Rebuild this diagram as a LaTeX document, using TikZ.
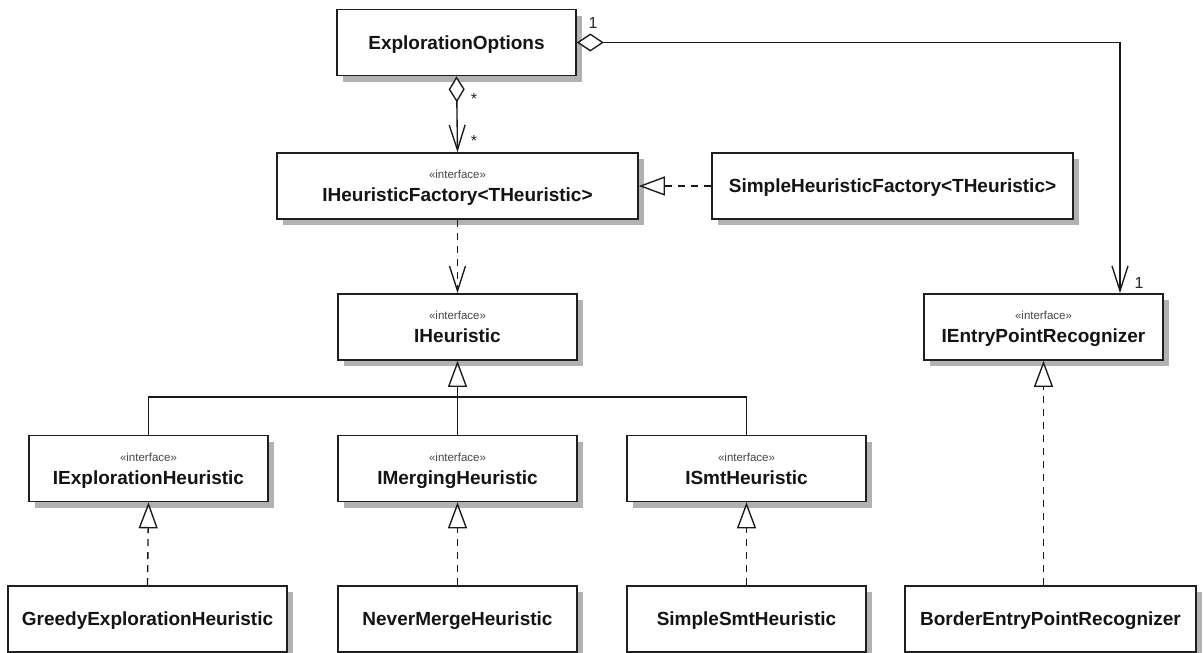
\documentclass[tikz,border=0pt]{standalone}
\usepackage{fontspec}
\setmainfont{Liberation Sans}
\usetikzlibrary{arrows.meta,shadows,calc}

\newcommand\umlname{\fontsize{19}{23}\selectfont\bfseries}
\newcommand\umlstereo[1]{{\fontsize{11.5}{23}\selectfont\mdseries\color{black!72}#1}}

\tikzset{
  umlbox/.style={draw=black!88, line width=1.7pt, fill=white,
    minimum height=66pt, inner sep=0pt, text depth=0pt, align=center,
    font=\umlname, text=black!92,
    drop shadow={shadow xshift=6pt, shadow yshift=-6pt, opacity=1, fill=black!30}},
  conn/.style={draw=black!90, line width=1.35pt},
  dep/.style={conn, dash pattern=on 7pt off 6pt},
  mult/.style={font=\fontsize{16}{18}\selectfont, text=black!85, inner sep=0pt, anchor=base},
  vee/.style={-{Straight Barb[length=25pt,width=16pt,line width=1.35pt]}},
  realize/.style={-{Triangle[fill=white,length=26pt,width=19pt,line width=1.35pt]}},
}

\begin{document}
\begin{tikzpicture}[x=1pt,y=-1pt]
\fill[white] (0,0) rectangle (1203,653);
\useasboundingbox (0,0) rectangle (1203,653);

% classes and interfaces
\node[umlbox, minimum width=239pt] (eo)   at (456.5,42.5) {ExplorationOptions};
\node[umlbox, minimum width=361pt] (ihf)  at (457.5,186) {\umlstereo{«interface»}\\IHeuristicFactory<THeuristic>};
\node[umlbox, minimum width=361pt] (shf)  at (892.5,186) {SimpleHeuristicFactory<THeuristic>};
\node[umlbox, minimum width=239pt] (ih)   at (457.5,327) {\umlstereo{«interface»}\\IHeuristic};
\node[umlbox, minimum width=239pt] (iep)  at (1043.5,327) {\umlstereo{«interface»}\\IEntryPointRecognizer};
\node[umlbox, minimum width=239pt] (iexp) at (148.5,468.5) {\umlstereo{«interface»}\\IExplorationHeuristic};
\node[umlbox, minimum width=239pt] (imer) at (457.5,468.5) {\umlstereo{«interface»}\\IMergingHeuristic};
\node[umlbox, minimum width=239pt] (ismt) at (746.5,468.5) {\umlstereo{«interface»}\\ISmtHeuristic};
\node[umlbox, minimum width=279pt] (greedy) at (147.5,619) {GreedyExplorationHeuristic};
\node[umlbox, minimum width=239pt] (never)  at (457.5,619) {NeverMergeHeuristic};
\node[umlbox, minimum width=239pt] (ssmt)   at (746.5,619) {SimpleSmtHeuristic};
\node[umlbox, minimum width=291pt] (border) at (1050.5,619) {BorderEntryPointRecognizer};

% aggregations
\draw[conn, {Diamond[fill=white,length=26pt,width=16pt,line width=1.35pt]}-{Straight Barb[length=25pt,width=16pt,line width=1.35pt]}]
  (eo.south) -- (ihf.north);
\coordinate (eptop) at ($(iep.north)+(76.5,0)$);
\draw[conn, {Diamond[fill=white,length=27pt,width=18pt,line width=1.35pt]}-{Straight Barb[length=25pt,width=16pt,line width=1.35pt]}]
  (eo.east) -| (eptop);

% multiplicities
\node[mult] (m1) at (474,104) {*};
\node[mult] (m2) at (474,146) {*};
\node[mult] (m3) at (593,28) {1};
\node[mult] (m4) at (1139,288) {1};

% factory realization and dependency
\draw[dep, realize] (shf.west) -- (ihf.east);
\draw[dep, vee] (ihf.south) -- (ih.north);

% generalizations of IHeuristic
\coordinate (bus) at (457.5,397);
\draw[conn, realize] (bus) -- (ih.south);
\draw[conn] (iexp.north) |- (bus) -| (ismt.north);
\draw[conn] (imer.north) -- (bus);

% realizations
\draw[dep, realize] (greedy.north) -- (iexp.south);
\draw[dep, realize] (never.north) -- (imer.south);
\draw[dep, realize] (ssmt.north) -- (ismt.south);
\draw[dep, realize] (border.north -| iep.south) -- (iep.south);
\end{tikzpicture}
\end{document}
